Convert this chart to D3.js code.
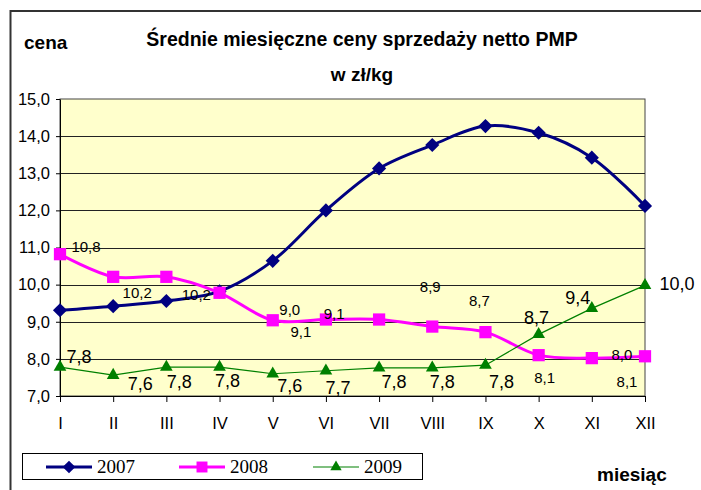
<!DOCTYPE html>
<html lang="pl">
<head>
  <meta charset="UTF-8" />
  <title>Średnie miesięczne ceny sprzedaży netto PMP</title>
  <script src="https://d3js.org/d3.v7.min.js"></script>
  <style>
    html, body { margin: 0; padding: 0; background: #fff; }
    svg { display: block; font-family: "Liberation Sans", Arial, sans-serif; }
    .tick text { font-size: 16.5px; fill: #000; }
    .lbl08 { font-size: 15px; fill: #000; }
    .lbl09 { font-size: 18px; fill: #000; }
    .legend text { font-family: "Liberation Serif", "Times New Roman", serif; font-size: 19px; }
  </style>
</head>
<body>
  <svg id="chart"></svg>
  <script>
    // dane
    const months = ["I","II","III","IV","V","VI","VII","VIII","IX","X","XI","XII"];
    const years = ["2007", "2008", "2009"];
    const values2007 = [9.31, 9.42, 9.56, 9.82, 10.64, 12.0, 13.13, 13.76, 14.27, 14.09, 13.42, 12.12];
    const values2008 = [10.82, 10.21, 10.21, 9.78, 9.04, 9.06, 9.06, 8.87, 8.72, 8.1, 8.02, 8.07];
    const values2009 = [7.78, 7.56, 7.78, 7.78, 7.6, 7.68, 7.76, 7.76, 7.83, 8.66, 9.36, 9.98];
    const labels2008 = ["10,8","10,2","10,2",null,"9,0","9,1","9,1","8,9","8,7","8,1","8,0","8,1"];
    const labels2009 = ["7,8","7,6","7,8","7,8","7,6","7,7","7,8","7,8","7,8","8,7","9,4","10,0"];
    const yTicks = [7, 8, 9, 10, 11, 12, 13, 14, 15];

    // przesunięcia etykiet (ręcznie ułożone jak w oryginale)
    const offs2008 = [[26,-8],[24,16],[30,18],null,[17,-11],[-25,12],[-45,-6],[-2,-40],[-6,-32],[6,22],[30,-4],[-18,25]];
    const offs2009 = [[19,-10],[27,9],[13,15],[8,14],[17,12],[12,17],[15,14],[10,14],[16,17],[-2,-16],[-14,-10],[32,-1]];

    const W = 701, H = 490;
    const plot = { left: 60, right: 645, top: 99, bottom: 396 };

    const svg = d3.select("#chart").attr("width", W).attr("height", H);

    // ramka zewnętrzna
    svg.append("path")
       .attr("d", `M10.5,${H + 5} V11 H${W + 5}`)
       .attr("fill", "none")
       .attr("stroke", "#333")
       .attr("stroke-width", 2);

    const x = d3.scalePoint().domain(months).range([plot.left, plot.right]);
    const y = d3.scaleLinear().domain([7, 15]).range([plot.bottom, plot.top]);

    svg.append("rect")
       .attr("x", plot.left).attr("y", plot.top)
       .attr("width", plot.right - plot.left)
       .attr("height", plot.bottom - plot.top)
       .attr("fill", "#ffffcc")
       .attr("stroke", "#444")
       .attr("stroke-width", 1);

    // linie siatki
    svg.append("g")
       .selectAll("line")
       .data(yTicks.slice(1, -1))
       .join("line")
         .attr("x1", plot.left).attr("x2", plot.right)
         .attr("y1", d => Math.round(y(d)) + 0.5)
         .attr("y2", d => Math.round(y(d)) + 0.5)
         .attr("stroke", "#222")
         .attr("stroke-width", 1);

    const fmt = d => d.toFixed(1).replace(".", ",");

    const xAxis = svg.append("g")
       .attr("transform", `translate(0,${plot.bottom})`)
       .call(d3.axisBottom(x).tickSize(6).tickSizeOuter(0).tickPadding(15));
    xAxis.select(".domain").attr("stroke", "#000");

    const yAxis = svg.append("g")
       .attr("transform", `translate(${plot.left},0)`)
       .call(d3.axisLeft(y).tickValues(yTicks).tickFormat(fmt).tickSize(4).tickSizeOuter(0).tickPadding(6));
    yAxis.select(".domain").attr("stroke", "#000");

    const series = [
      { name: "2007", values: values2007, color: "#000080", width: 3, curve: d3.curveCatmullRom.alpha(0.5),
        symbol: d3.symbolSquare, size: 100, rotate: 45 },
      { name: "2008", values: values2008, color: "#ff00ff", width: 3, curve: d3.curveCatmullRom.alpha(0.5),
        symbol: d3.symbolSquare, size: 150, rotate: 0 },
      { name: "2009", values: values2009, color: "#008000", width: 1.2, curve: d3.curveLinear,
        symbol: d3.symbolTriangle, size: 70, rotate: 0 }
    ];

    series.forEach(s => {
      const line = d3.line()
        .x((d, i) => x(months[i]))
        .y(d => y(d))
        .curve(s.curve);

      svg.append("path")
         .datum(s.values)
         .attr("d", line)
         .attr("fill", "none")
         .attr("stroke", s.color)
         .attr("stroke-width", s.width);

      svg.append("g")
         .selectAll("path")
         .data(s.values)
         .join("path")
           .attr("d", d3.symbol(s.symbol, s.size))
           .attr("transform", (d, i) => `translate(${x(months[i])},${y(d)}) rotate(${s.rotate})`)
           .attr("fill", s.color);
    });

    // etykiety danych
    function drawLabels(vals, labels, offs, cls) {
      svg.append("g")
         .selectAll("text")
         .data(vals.map((v, i) => ({ v, i })).filter(d => labels[d.i] !== null))
         .join("text")
           .attr("class", cls)
           .attr("x", d => x(months[d.i]) + offs[d.i][0])
           .attr("y", d => y(d.v) + offs[d.i][1])
           .attr("text-anchor", "middle")
           .attr("dominant-baseline", "central")
           .text(d => labels[d.i]);
    }
    drawLabels(values2008, labels2008, offs2008, "lbl08");
    drawLabels(values2009, labels2009, offs2009, "lbl09");

    // tytuły
    svg.append("text")
       .attr("x", 362).attr("y", 46)
       .attr("text-anchor", "middle")
       .attr("font-size", 19.5).attr("font-weight", "bold")
       .text("Średnie miesięczne ceny sprzedaży netto PMP");
    svg.append("text")
       .attr("x", 362).attr("y", 81)
       .attr("text-anchor", "middle")
       .attr("font-size", 19).attr("font-weight", "bold")
       .text("w zł/kg");
    svg.append("text")
       .attr("x", 24).attr("y", 49)
       .attr("font-size", 19).attr("font-weight", "bold")
       .text("cena");
    svg.append("text")
       .attr("x", 597).attr("y", 481)
       .attr("font-size", 19).attr("font-weight", "bold")
       .text("miesiąc");

    // legenda
    const legend = svg.append("g").attr("class", "legend");
    legend.append("rect")
       .attr("x", 22.5).attr("y", 453.5)
       .attr("width", 400).attr("height", 26)
       .attr("fill", "#fff")
       .attr("stroke", "#000");

    const legendX = [46, 179, 313];
    series.forEach((s, i) => {
      const g = legend.append("g").attr("transform", `translate(${legendX[i]},467)`);
      g.append("line")
       .attr("x1", 0).attr("x2", 46)
       .attr("stroke", s.color)
       .attr("stroke-width", s.width);
      g.append("path")
       .attr("d", d3.symbol(s.symbol, s.size * 0.8))
       .attr("transform", `translate(23,0) rotate(${s.rotate})`)
       .attr("fill", s.color);
      g.append("text")
       .attr("x", 51).attr("y", 6)
       .text(years[i]);
    });
  </script>
</body>
</html>
